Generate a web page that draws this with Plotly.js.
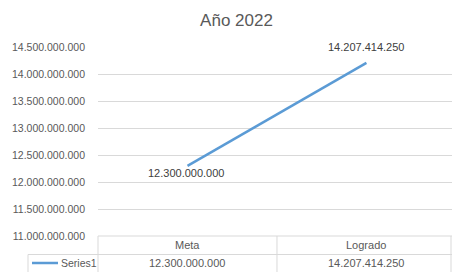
<!DOCTYPE html>
<html><head><meta charset="utf-8">
<script src="https://cdn.plot.ly/plotly-3.0.1.min.js"></script>
<style>html,body{margin:0;padding:0;background:#fff;}#c{width:452px;height:272px;}</style>
</head><body><div id="c"></div>
<script>
const categories = ["Meta", "Logrado"];
const values = [12300000000, 14207414250];
const seriesName = "Series1";
const chartTitle = "Año 2022";

function fmt(v){ return String(Math.round(v)).replace(/\B(?=(\d{3})+(?!\d))/g, "."); }

const FONT = "Liberation Sans, Arial, sans-serif";
const GRID = "#d9d9d9";
const LINE = "#5B9BD5";

const shapes = [
  {type:"line", xref:"paper", yref:"paper", x0:0, x1:1, y0:0, y1:0, line:{color:GRID,width:1}},
  {type:"line", xref:"paper", yref:"paper", x0:-70/354, x1:1, y0:-18.5/189, y1:-18.5/189, line:{color:GRID,width:1}},
  {type:"line", xref:"paper", yref:"paper", x0:0, x1:0, y0:0, y1:-36/189, line:{color:GRID,width:1}},
  {type:"line", xref:"x", yref:"paper", x0:0.5, x1:0.5, y0:0, y1:-36/189, line:{color:GRID,width:1}},
  {type:"line", xref:"paper", yref:"paper", x0:-70/354, x1:-70/354, y0:-18.5/189, y1:-36/189, line:{color:GRID,width:1}},
  {type:"line", xref:"paper", yref:"paper", x0:353/354, x1:353/354, y0:0, y1:-36/189, line:{color:GRID,width:1}},
  {type:"line", xref:"paper", yref:"paper", x0:-66/354, x1:-40/354, y0:-27/189, y1:-27/189, line:{color:LINE,width:2.5}}
];

const annotations = [];
categories.forEach((c,i)=>{
  annotations.push({xref:"x", yref:"paper", x:i, y:-9/189, text:c, showarrow:false, xanchor:"center", yanchor:"middle", font:{family:FONT,size:11,color:"#595959"}});
  annotations.push({xref:"x", yref:"paper", x:i, y:-27/189, text:fmt(values[i]), showarrow:false, xanchor:"center", yanchor:"middle", font:{family:FONT,size:11,color:"#595959"}});
});
annotations.push({xref:"paper", yref:"paper", x:-39/354, y:-27/189, text:seriesName, showarrow:false, xanchor:"left", yanchor:"middle", font:{family:FONT,size:10.5,color:"#595959"}});
annotations.push({xref:"x", yref:"y", x:0, y:values[0], yshift:-7, xshift:-1, text:fmt(values[0]), showarrow:false, xanchor:"center", yanchor:"middle", font:{family:FONT,size:11,color:"#404040"}});
annotations.push({xref:"x", yref:"y", x:1, y:values[1], yshift:16, text:fmt(values[1]), showarrow:false, xanchor:"center", yanchor:"middle", font:{family:FONT,size:11,color:"#404040"}});

const trace = {
  x: categories, y: values, type:"scatter", mode:"lines", name:seriesName,
  line:{color:LINE, width:2.5}, hoverinfo:"skip"
};

const layout = {
  width:452, height:272,
  margin:{l:98, r:0, t:47, b:36, pad:0},
  paper_bgcolor:"#fff", plot_bgcolor:"#fff",
  separators:",.",
  showlegend:false,
  title:{text:chartTitle, x:236.5/452, xref:"container", xanchor:"center", y:1-20.5/272, yref:"container", yanchor:"middle", font:{family:FONT,size:17,color:"#595959"}},
  xaxis:{type:"category", range:[-0.5,1.478], showticklabels:false, showgrid:false, zeroline:false, showline:false, fixedrange:true},
  yaxis:{range:[11000000000,14500000000], dtick:500000000, tick0:0, tickformat:",d", showgrid:true, gridcolor:GRID, gridwidth:1, zeroline:false, showline:false, ticks:"", ticklabelstandoff:12, tickfont:{family:FONT,size:10.5,color:"#595959"}},
  shapes: shapes, annotations: annotations
};

Plotly.newPlot("c", [trace], layout, {displayModeBar:false, staticPlot:true});
</script></body></html>
